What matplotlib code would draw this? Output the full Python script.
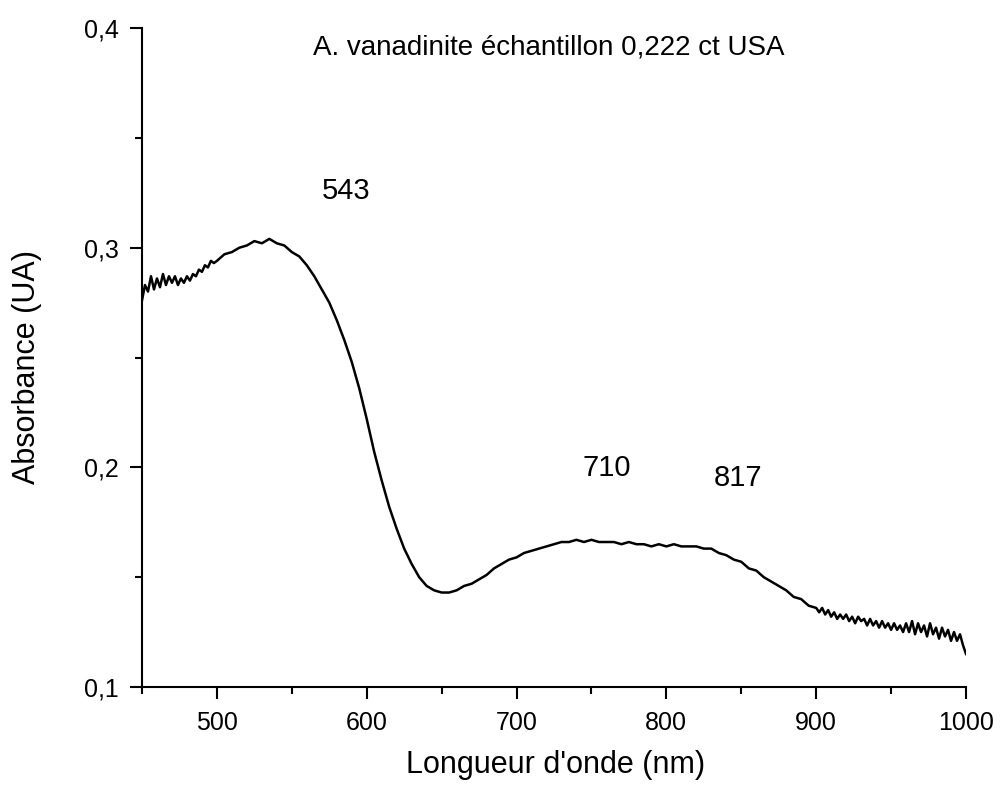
import matplotlib.pyplot as plt

plt.rcParams['font.family'] = ['Liberation Sans', 'DejaVu Sans']

# absorbance spectrum
# denser steps at the noisy ends (2 nm), 5 nm in the middle
wavelength = list(range(450, 500, 2)) + list(range(500, 900, 5)) + list(range(900, 1001, 2))
absorbance = [
    # 450 - 498
    0.276, 0.283, 0.280, 0.287, 0.281, 0.286, 0.282, 0.288, 0.283, 0.287,
    0.284, 0.287, 0.283, 0.286, 0.284, 0.287, 0.285, 0.288, 0.287, 0.290,
    0.289, 0.292, 0.291, 0.294, 0.293,
    # 500 - 895
    0.294, 0.297, 0.298, 0.300, 0.301, 0.303, 0.302, 0.304, 0.302, 0.301,
    0.298, 0.296, 0.292, 0.287, 0.281, 0.275, 0.267, 0.258, 0.248, 0.236,
    0.222, 0.207, 0.194, 0.182, 0.172, 0.163, 0.156, 0.150, 0.146, 0.144,
    0.143, 0.143, 0.144, 0.146, 0.147, 0.149, 0.151, 0.154, 0.156, 0.158,
    0.159, 0.161, 0.162, 0.163, 0.164, 0.165, 0.166, 0.166, 0.167, 0.166,
    0.167, 0.166, 0.166, 0.166, 0.165, 0.166, 0.165, 0.165, 0.164, 0.165,
    0.164, 0.165, 0.164, 0.164, 0.164, 0.163, 0.163, 0.161, 0.160, 0.158,
    0.157, 0.154, 0.153, 0.150, 0.148, 0.146, 0.144, 0.141, 0.140, 0.137,
    # 900 - 1000
    0.136, 0.134, 0.136, 0.133, 0.135, 0.132, 0.134, 0.131, 0.133, 0.131,
    0.133, 0.130, 0.132, 0.129, 0.132, 0.130, 0.131, 0.128, 0.131, 0.128,
    0.130, 0.127, 0.130, 0.127, 0.129, 0.126, 0.129, 0.126, 0.128, 0.125,
    0.129, 0.125, 0.130, 0.124, 0.129, 0.125, 0.128, 0.123, 0.129, 0.124,
    0.127, 0.122, 0.127, 0.123, 0.126, 0.121, 0.125, 0.121, 0.124, 0.119,
    0.115,
]

peak_labels = ['543', '710', '817']
peak_pos = [(586, 0.3258), (760, 0.1997), (848, 0.1952)]

fig = plt.figure(figsize=(10, 7.92), dpi=100)
ax = fig.add_axes([0.142, 0.1326, 0.824, 0.832])

ax.plot(wavelength, absorbance, color='black', lw=1.8)

ax.set_xlim(450, 1000)
ax.set_ylim(0.1, 0.4)
ax.set_xticks([500, 600, 700, 800, 900, 1000])
ax.set_xticks([450, 550, 650, 750, 850, 950], minor=True)
ax.set_yticks([0.1, 0.2, 0.3, 0.4])
ax.set_yticks([0.15, 0.25, 0.35], minor=True)
ax.set_yticklabels(['0,1', '0,2', '0,3', '0,4'])

for side in ['top', 'right']:
    ax.spines[side].set_visible(False)
for side in ['left', 'bottom']:
    ax.spines[side].set_linewidth(1.5)
ax.tick_params(which='major', direction='out', length=8.5, width=1.5, labelsize=18)
ax.tick_params(axis='x', which='major', pad=9)
ax.tick_params(axis='y', which='major', pad=8)
ax.tick_params(which='minor', direction='out', length=5, width=1.5)

ax.set_xlabel("Longueur d'onde (nm)", fontsize=22)
ax.set_ylabel('Absorbance (UA)', fontsize=22)
ax.xaxis.set_label_coords(0.502, -0.095)
ax.yaxis.set_label_coords(-0.121, 0.486)

ax.text(564, 0.391, 'A. vanadinite échantillon 0,222 ct USA', fontsize=20, va='center')
for lab, (x, y) in zip(peak_labels, peak_pos):
    ax.text(x, y, lab, fontsize=21, ha='center', va='center')

fig.savefig('out.png', dpi=100)
